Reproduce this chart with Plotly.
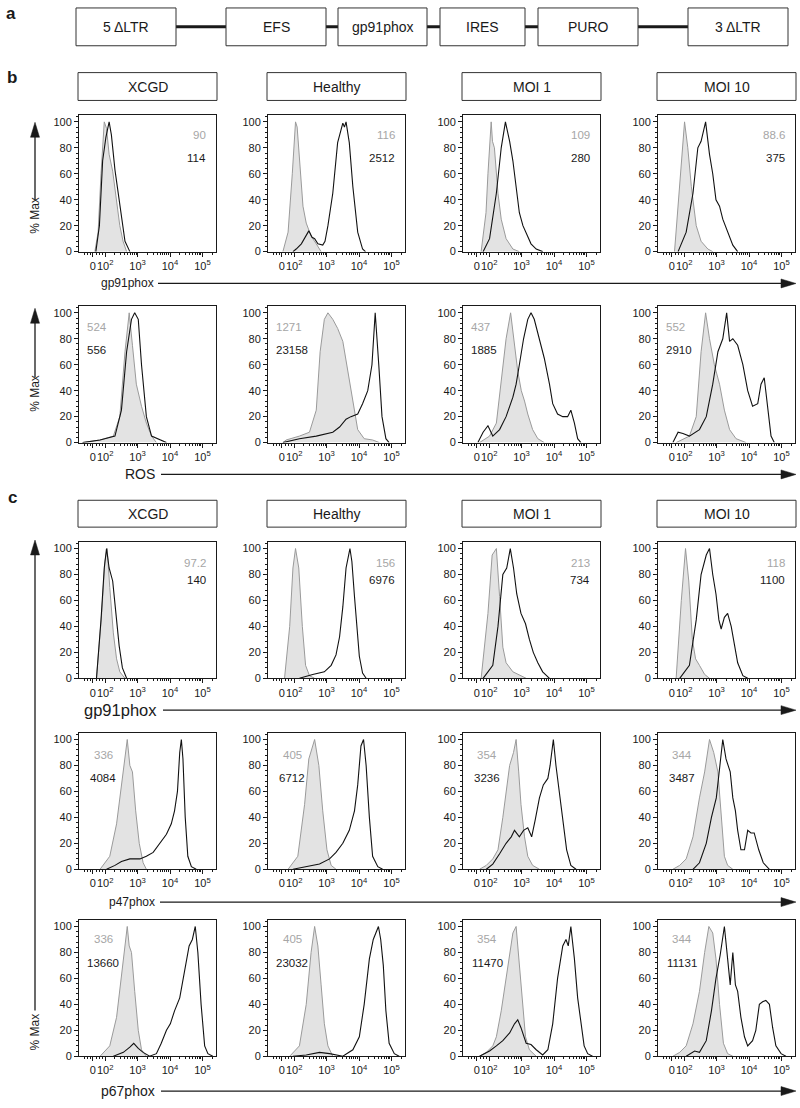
import math
import plotly.graph_objects as go

# ---------------- data ----------------
CONDITIONS = ["XCGD", "Healthy", "MOI 1", "MOI 10"]
ROW_MARKERS = ["gp91phox", "ROS", "gp91phox", "p47phox", "p67phox"]
VECTOR_ELEMENTS = ["5 \u0394LTR", "EFS", "gp91phox", "IRES", "PURO", "3 \u0394LTR"]

MFI_CTRL = [["90", "116", "109", "88.6"],
            ["524", "1271", "437", "552"],
            ["97.2", "156", "213", "118"],
            ["336", "405", "354", "344"],
            ["336", "405", "354", "344"]]
MFI_STAIN = [["114", "2512", "280", "375"],
             ["556", "23158", "1885", "2910"],
             ["140", "6976", "734", "1100"],
             ["4084", "6712", "3236", "3487"],
             ["13660", "23032", "11470", "11131"]]

# x in log-decade display units (2 = 10^2 ...), y in % Max
B1_XCGD_GRAY = [(1.68,0),(1.78,15),(1.87,60),(1.97,100),(2.04,95),(2.12,75),(2.23,62),(2.35,40),(2.45,20),(2.55,8),(2.66,0)]
B1_XCGD_BLACK = [(1.71,0),(1.82,20),(1.92,70),(2.02,88),(2.12,100),(2.19,90),(2.30,63),(2.40,45),(2.50,25),(2.61,8),(2.76,0)]
B1_HEALTHY_GRAY = [(1.65,0),(1.81,15),(1.94,60),(2.04,100),(2.09,96),(2.16,70),(2.27,35),(2.37,22),(2.52,12),(2.68,6),(2.83,0)]
B1_HEALTHY_BLACK = [(1.96,0),(2.06,2),(2.22,6),(2.37,12),(2.45,16),(2.55,11),(2.63,10),(2.73,6),(2.88,5),(2.95,8),(3.04,20),(3.19,45),(3.34,84),(3.50,99),(3.55,96),(3.60,100),(3.70,84),(3.81,50),(3.96,15),(4.11,2),(4.20,0)]
B1_MOI1_GRAY = [(1.75,0),(1.90,30),(1.96,60),(2.06,100),(2.10,85),(2.16,80),(2.27,45),(2.37,25),(2.52,10),(2.73,2),(2.93,0)]
B1_MOI1_BLACK = [(1.81,0),(2.01,10),(2.22,45),(2.37,80),(2.50,100),(2.63,85),(2.73,70),(2.83,50),(2.93,30),(3.04,20),(3.16,13),(3.29,6),(3.45,2),(3.65,0)]
B1_MOI10_GRAY = [(1.70,0),(1.91,70),(2.01,100),(2.11,80),(2.22,50),(2.37,20),(2.52,8),(2.73,2),(2.88,0)]
B1_MOI10_BLACK = [(1.81,0),(2.06,15),(2.27,45),(2.42,80),(2.52,85),(2.66,100),(2.78,75),(2.88,60),(2.98,40),(3.09,35),(3.19,25),(3.34,15),(3.50,5),(3.65,0)]

B2_XCGD_GRAY = [(1.30,0),(1.84,2),(2.25,5),(2.45,20),(2.61,70),(2.74,100),(2.84,75),(2.96,45),(3.12,28),(3.27,15),(3.43,5),(3.58,0)]
B2_XCGD_BLACK = [(1.30,0),(1.84,2),(2.30,5),(2.50,25),(2.66,70),(2.81,95),(2.91,100),(3.02,95),(3.12,60),(3.27,20),(3.43,5),(3.68,2),(3.89,0)]
B2_HEALTHY_GRAY = [(1.65,0),(1.75,2),(2.16,5),(2.47,8),(2.68,25),(2.80,70),(2.93,95),(3.04,100),(3.19,95),(3.34,88),(3.50,78),(3.65,55),(3.81,30),(3.96,10),(4.16,3),(4.42,2),(4.63,0)]
B2_HEALTHY_BLACK = [(1.65,0),(2.16,3),(2.68,5),(3.19,8),(3.40,12),(3.60,18),(3.75,20),(3.96,22),(4.11,30),(4.27,40),(4.40,60),(4.50,100),(4.61,60),(4.71,20),(4.83,3),(4.93,0)]
B2_MOI1_GRAY = [(1.70,0),(2.01,5),(2.22,15),(2.37,50),(2.52,80),(2.66,100),(2.78,75),(2.88,55),(2.99,40),(3.09,32),(3.19,22),(3.34,10),(3.50,3),(3.70,0)]
B2_MOI1_BLACK = [(1.65,0),(1.81,8),(1.96,13),(2.11,5),(2.32,10),(2.52,20),(2.73,35),(2.83,45),(2.93,60),(3.06,80),(3.19,95),(3.29,100),(3.39,95),(3.55,80),(3.70,65),(3.86,45),(3.96,30),(4.11,22),(4.27,20),(4.42,20),(4.52,25),(4.63,15),(4.73,3),(4.83,0)]
B2_MOI10_GRAY = [(1.75,0),(2.16,5),(2.37,20),(2.52,70),(2.66,100),(2.78,80),(2.93,60),(3.09,45),(3.24,25),(3.40,10),(3.60,3),(3.91,0)]
B2_MOI10_BLACK = [(1.65,0),(1.81,8),(1.96,7),(2.16,5),(2.47,10),(2.68,20),(2.88,45),(3.04,70),(3.19,80),(3.31,100),(3.40,78),(3.50,80),(3.65,75),(3.81,60),(3.96,40),(4.11,28),(4.27,30),(4.37,45),(4.47,50),(4.57,30),(4.68,5),(4.78,0)]

C1_XCGD_GRAY = [(1.73,0),(1.89,50),(1.99,90),(2.06,100),(2.14,70),(2.25,35),(2.35,15),(2.45,5),(2.61,0)]
C1_XCGD_BLACK = [(1.73,0),(1.87,45),(1.97,85),(2.04,100),(2.12,85),(2.23,75),(2.33,50),(2.43,25),(2.53,8),(2.66,0)]
C1_HEALTHY_GRAY = [(1.70,0),(1.86,40),(1.96,85),(2.04,100),(2.14,85),(2.25,40),(2.35,10),(2.47,2),(2.63,0)]
C1_HEALTHY_BLACK = [(2.16,0),(2.57,3),(2.93,5),(3.14,10),(3.29,18),(3.40,32),(3.50,55),(3.60,85),(3.72,100),(3.78,90),(3.86,63),(3.93,40),(4.01,17),(4.11,4),(4.22,0)]
C1_MOI1_GRAY = [(1.75,0),(1.96,50),(2.09,95),(2.22,100),(2.32,63),(2.42,24),(2.52,12),(2.73,5),(3.14,0)]
C1_MOI1_BLACK = [(1.81,0),(2.11,10),(2.27,40),(2.42,80),(2.54,85),(2.65,100),(2.75,85),(2.85,65),(2.98,50),(3.12,42),(3.24,30),(3.36,20),(3.50,12),(3.65,5),(3.86,0)]
C1_MOI10_GRAY = [(1.75,0),(1.91,60),(2.04,100),(2.14,75),(2.25,30),(2.35,15),(2.47,10),(2.63,3),(2.78,0)]
C1_MOI10_BLACK = [(1.86,0),(2.16,10),(2.37,45),(2.52,80),(2.68,95),(2.78,100),(2.88,80),(2.98,65),(3.07,45),(3.14,38),(3.24,47),(3.34,50),(3.45,40),(3.55,25),(3.65,12),(3.81,2),(3.96,0)]

C2_XCGD_GRAY = [(1.84,0),(2.14,10),(2.35,35),(2.50,65),(2.61,90),(2.68,100),(2.76,80),(2.84,75),(2.94,45),(3.05,20),(3.17,5),(3.27,0)]
C2_XCGD_BLACK = [(2.04,0),(2.30,3),(2.50,6),(2.76,8),(3.07,8),(3.27,10),(3.48,13),(3.68,20),(3.89,27),(4.04,35),(4.14,45),(4.23,60),(4.30,90),(4.35,100),(4.40,85),(4.47,40),(4.55,10),(4.66,2),(4.81,0)]
C2_HEALTHY_GRAY = [(1.81,0),(2.11,10),(2.32,50),(2.45,85),(2.63,100),(2.76,80),(2.88,45),(3.01,15),(3.14,3),(3.29,0)]
C2_HEALTHY_BLACK = [(1.96,0),(2.37,2),(2.78,4),(3.09,8),(3.29,13),(3.50,20),(3.70,30),(3.86,45),(3.96,65),(4.06,95),(4.14,100),(4.22,80),(4.32,40),(4.42,10),(4.58,2),(4.73,0)]
C2_MOI1_GRAY = [(1.70,0),(1.91,3),(2.11,8),(2.27,15),(2.42,40),(2.52,60),(2.63,80),(2.75,90),(2.83,100),(2.91,75),(2.98,50),(3.09,25),(3.19,10),(3.34,3),(3.55,0)]
C2_MOI1_BLACK = [(1.91,0),(2.11,4),(2.32,12),(2.52,20),(2.68,25),(2.78,30),(2.93,25),(3.06,30),(3.19,32),(3.31,25),(3.42,38),(3.55,55),(3.67,65),(3.81,70),(3.88,80),(3.98,100),(4.06,80),(4.16,60),(4.28,40),(4.39,15),(4.52,3),(4.68,0)]
C2_MOI10_GRAY = [(1.65,0),(1.86,3),(2.06,8),(2.27,25),(2.47,55),(2.63,75),(2.78,100),(2.91,90),(3.04,75),(3.14,40),(3.24,10),(3.34,3),(3.50,0)]
C2_MOI10_BLACK = [(2.27,0),(2.47,5),(2.68,20),(2.84,40),(2.99,55),(3.11,80),(3.19,100),(3.29,85),(3.42,75),(3.50,55),(3.58,45),(3.65,30),(3.75,15),(3.86,15),(3.96,30),(4.06,28),(4.16,28),(4.30,15),(4.44,5),(4.63,0)]

C3_XCGD_GRAY = [(1.84,0),(2.14,8),(2.35,30),(2.50,60),(2.61,85),(2.68,100),(2.74,85),(2.81,80),(2.91,50),(3.02,20),(3.12,5),(3.27,0)]
C3_XCGD_BLACK = [(2.25,0),(2.56,3),(2.76,7),(2.88,10),(3.02,6),(3.17,3),(3.37,0),(3.58,2),(3.73,10),(3.89,20),(4.01,25),(4.14,35),(4.30,45),(4.45,65),(4.59,85),(4.69,90),(4.78,100),(4.86,80),(4.96,40),(5.07,8),(5.17,2),(5.32,0)]
C3_HEALTHY_GRAY = [(1.86,0),(2.16,8),(2.37,40),(2.52,80),(2.63,100),(2.73,85),(2.83,55),(2.93,25),(3.04,8),(3.19,0)]
C3_HEALTHY_BLACK = [(1.96,0),(2.37,1),(2.78,3),(3.09,2),(3.50,0),(3.81,5),(4.01,15),(4.16,40),(4.32,75),(4.44,90),(4.60,100),(4.67,90),(4.75,70),(4.83,35),(4.93,10),(5.09,2),(5.24,0)]
C3_MOI1_GRAY = [(1.70,0),(1.91,3),(2.11,8),(2.22,15),(2.37,35),(2.52,60),(2.63,75),(2.73,95),(2.83,100),(2.91,75),(3.02,40),(3.12,15),(3.24,5),(3.45,0)]
C3_MOI1_BLACK = [(1.70,0),(2.01,4),(2.22,8),(2.42,12),(2.63,18),(2.78,25),(2.88,28),(2.98,22),(3.14,10),(3.29,9),(3.45,5),(3.65,1),(3.81,5),(3.96,25),(4.11,60),(4.27,85),(4.37,90),(4.44,85),(4.52,100),(4.63,75),(4.73,45),(4.83,25),(4.93,8),(5.04,2),(5.19,0)]
C3_MOI10_GRAY = [(1.65,0),(1.86,3),(2.06,8),(2.27,25),(2.47,50),(2.63,80),(2.76,100),(2.88,95),(2.98,75),(3.09,40),(3.21,10),(3.34,2),(3.50,0)]
C3_MOI10_BLACK = [(2.06,0),(2.32,4),(2.47,3),(2.68,12),(2.84,35),(2.98,60),(3.11,78),(3.24,100),(3.34,75),(3.42,55),(3.50,80),(3.58,55),(3.65,50),(3.75,30),(3.86,15),(3.96,8),(4.11,12),(4.21,20),(4.32,40),(4.42,42),(4.52,43),(4.63,40),(4.73,22),(4.83,8),(4.99,2),(5.14,0)]

X_TICK_VALS = [1.62, 2, 3, 4, 5]
X_TICK_TEXT = ["0", "10<sup>2</sup>", "10<sup>3</sup>", "10<sup>4</sup>", "10<sup>5</sup>"]

GRAY_CURVES = [[B1_XCGD_GRAY, B1_HEALTHY_GRAY, B1_MOI1_GRAY, B1_MOI10_GRAY],
               [B2_XCGD_GRAY, B2_HEALTHY_GRAY, B2_MOI1_GRAY, B2_MOI10_GRAY],
               [C1_XCGD_GRAY, C1_HEALTHY_GRAY, C1_MOI1_GRAY, C1_MOI10_GRAY],
               [C2_XCGD_GRAY, C2_HEALTHY_GRAY, C2_MOI1_GRAY, C2_MOI10_GRAY],
               [C3_XCGD_GRAY, C3_HEALTHY_GRAY, C3_MOI1_GRAY, C3_MOI10_GRAY]]
BLACK_CURVES = [[B1_XCGD_BLACK, B1_HEALTHY_BLACK, B1_MOI1_BLACK, B1_MOI10_BLACK],
                [B2_XCGD_BLACK, B2_HEALTHY_BLACK, B2_MOI1_BLACK, B2_MOI10_BLACK],
                [C1_XCGD_BLACK, C1_HEALTHY_BLACK, C1_MOI1_BLACK, C1_MOI10_BLACK],
                [C2_XCGD_BLACK, C2_HEALTHY_BLACK, C2_MOI1_BLACK, C2_MOI10_BLACK],
                [C3_XCGD_BLACK, C3_HEALTHY_BLACK, C3_MOI1_BLACK, C3_MOI10_BLACK]]

# ---------------- layout constants ----------------
W, H = 800, 1108
FONT = "Liberation Sans, Arial, Helvetica, sans-serif"
INK = "#1a1a1a"
COL_LEFT = [79, 268, 463, 658]
PLOT_W = 137
ROW_TOP = [116, 308, 545, 737, 925]
PLOT_H = 137
X_RANGE = [1.19, 5.42]
Y_RANGE = [0, 105]


def fx(p):
    return p / W


def fy(p):
    return 1 - p / H


minor_x = [1.35, 1.46, 1.54, 1.72, 1.82, 1.91]
for d in (2, 3, 4):
    for k in range(2, 10):
        minor_x.append(d + math.log10(k))
minor_x += [5 + math.log10(2)]

fig = go.Figure()
layout = dict(width=W, height=H, autosize=False, margin=dict(l=0, r=0, t=0, b=0, pad=0),
              paper_bgcolor="white", plot_bgcolor="white", showlegend=False,
              font=dict(family=FONT, color=INK, size=11))
shapes = []
annotations = []

for r in range(5):
    for c in range(4):
        n = r * 4 + c + 1
        sfx = "" if n == 1 else str(n)
        xa, ya = "x" + sfx, "y" + sfx
        layout["xaxis" + sfx] = dict(
            domain=[fx(COL_LEFT[c]), fx(COL_LEFT[c] + PLOT_W)], anchor=ya,
            range=X_RANGE, showgrid=False, zeroline=False, showline=True,
            linecolor=INK, linewidth=1, mirror=True,
            tickmode="array", tickvals=X_TICK_VALS, ticktext=X_TICK_TEXT,
            ticks="outside", ticklen=4, tickwidth=1, tickcolor=INK, tickangle=0,
            tickfont=dict(size=11, family=FONT, color=INK),
            minor=dict(tickmode="array", tickvals=minor_x, ticks="outside",
                       ticklen=2, tickcolor=INK, tickwidth=1, showgrid=False),
        )
        layout["yaxis" + sfx] = dict(
            domain=[fy(ROW_TOP[r] + PLOT_H), fy(ROW_TOP[r])], anchor=xa,
            range=Y_RANGE, showgrid=False, zeroline=False, showline=True,
            linecolor=INK, linewidth=1, mirror=True,
            tickmode="linear", tick0=0, dtick=20,
            ticks="outside", ticklen=4, tickwidth=1, tickcolor=INK,
            tickfont=dict(size=11, family=FONT, color=INK),
            minor=dict(tickmode="linear", tick0=0, dtick=4, ticks="outside",
                       ticklen=2, tickcolor=INK, tickwidth=1, showgrid=False),
        )
        g = GRAY_CURVES[r][c]
        b = BLACK_CURVES[r][c]
        fig.add_trace(go.Scatter(x=[p[0] for p in g], y=[p[1] for p in g],
                                 xaxis=xa, yaxis=ya, mode="lines", fill="tozeroy",
                                 fillcolor="#e3e3e3", line=dict(color="#9a9a9a", width=1),
                                 hoverinfo="skip"))
        fig.add_trace(go.Scatter(x=[p[0] for p in b], y=[p[1] for p in b],
                                 xaxis=xa, yaxis=ya, mode="lines",
                                 line=dict(color="#111111", width=1.1),
                                 hoverinfo="skip"))
        # MFI numbers
        dref = ("x" if n == 1 else "x" + str(n)) + " domain"
        yref = ("y" if n == 1 else "y" + str(n)) + " domain"
        if r in (0, 2):
            xpos, xanc = 1 - 8 / PLOT_W, "right"
            gy, by = (20, 43) if r == 0 else (21, 38)
        elif r == 1:
            xpos, xanc = 6 / PLOT_W, "left"
            gy, by = 21, 44
        else:
            xpos, xanc = 24 / PLOT_W, "center"
            gy, by = (22, 45) if r == 3 else (19, 43)
        annotations.append(dict(x=xpos, y=1 - gy / PLOT_H, xref=dref, yref=yref,
                                text=MFI_CTRL[r][c], showarrow=False, xanchor=xanc,
                                yanchor="middle", font=dict(size=11.5, color="#a6a6a6", family=FONT)))
        annotations.append(dict(x=xpos, y=1 - by / PLOT_H, xref=dref, yref=yref,
                                text=MFI_STAIN[r][c], showarrow=False, xanchor=xanc,
                                yanchor="middle", font=dict(size=11.5, color=INK, family=FONT)))

# header boxes
for (y0, y1) in [(73, 101), (503, 530)]:
    for c in range(4):
        x0 = COL_LEFT[c] - 1
        x1 = COL_LEFT[c] + PLOT_W + 1
        shapes.append(dict(type="rect", xref="paper", yref="paper", x0=fx(x0), x1=fx(x1),
                           y0=fy(y1), y1=fy(y0), line=dict(color="#333333", width=1),
                           fillcolor="white"))
        annotations.append(dict(x=fx((x0 + x1) / 2), y=fy((y0 + y1) / 2), xref="paper", yref="paper",
                                text=CONDITIONS[c], showarrow=False, xanchor="center",
                                yanchor="middle", font=dict(size=14, family=FONT, color=INK)))

# vector diagram (panel a)
VEC_BOXES = [(76, 176), (226, 326), (338, 427), (440, 525), (538, 638), (688, 788)]
shapes.append(dict(type="line", xref="paper", yref="paper", x0=fx(176), x1=fx(688),
                   y0=fy(27), y1=fy(27), line=dict(color=INK, width=3), layer="below"))
for (x0, x1), label in zip(VEC_BOXES, VECTOR_ELEMENTS):
    shapes.append(dict(type="rect", xref="paper", yref="paper", x0=fx(x0), x1=fx(x1),
                       y0=fy(46), y1=fy(8), line=dict(color="#333333", width=1),
                       fillcolor="white"))
    annotations.append(dict(x=fx((x0 + x1) / 2), y=fy(27), xref="paper", yref="paper",
                            text=label, showarrow=False, xanchor="center", yanchor="middle",
                            font=dict(size=14, family=FONT, color=INK)))

# panel letters
for letter, (lx, ly) in zip(["a", "b", "c"], [(11, 14), (12, 78), (12, 500)]):
    annotations.append(dict(x=fx(lx), y=fy(ly), xref="paper", yref="paper",
                            text="<b>" + letter + "</b>", showarrow=False, xanchor="center",
                            yanchor="middle", font=dict(size=17, family=FONT, color=INK)))


def tri(path_pts):
    return "M " + " L ".join(f"{fx(x)},{fy(y)}" for x, y in path_pts) + " Z"


# horizontal channel arrows
H_ARROWS = [(285, 127, 12, 158), (477, 140, 14, 161), (714, 120, 16.5, 163),
            (907, 132, 12, 160), (1097, 128, 14, 161)]
for (yy, tx, fs, lx0), label in zip(H_ARROWS, ROW_MARKERS):
    shapes.append(dict(type="line", xref="paper", yref="paper", x0=fx(lx0), x1=fx(785),
                       y0=fy(yy), y1=fy(yy), line=dict(color=INK, width=1.3)))
    shapes.append(dict(type="path", xref="paper", yref="paper",
                       path=tri([(796, yy), (781, yy - 4.5), (781, yy + 4.5)]),
                       fillcolor=INK, line=dict(color=INK, width=0.5)))
    annotations.append(dict(x=fx(tx), y=fy(yy), xref="paper", yref="paper", text=label,
                            showarrow=False, xanchor="center", yanchor="middle",
                            font=dict(size=fs, family=FONT, color=INK)))

# vertical % Max arrows
V_ARROWS = [(123, 201, 217), (310, 379, 396), (543, 1016, 1038)]
for tip, lend, tcy in V_ARROWS:
    shapes.append(dict(type="line", xref="paper", yref="paper", x0=fx(35), x1=fx(35),
                       y0=fy(tip + 10), y1=fy(lend), line=dict(color=INK, width=1.3)))
    shapes.append(dict(type="path", xref="paper", yref="paper",
                       path=tri([(35, tip), (30.5, tip + 15), (39.5, tip + 15)]),
                       fillcolor=INK, line=dict(color=INK, width=0.5)))
    annotations.append(dict(x=fx(35), y=fy(tcy), xref="paper", yref="paper", text="% Max",
                            textangle=-90, showarrow=False, xanchor="center", yanchor="middle",
                            font=dict(size=12, family=FONT, color=INK)))

layout["shapes"] = shapes
layout["annotations"] = annotations
fig.update_layout(**layout)
fig.write_html("out.html", config={"displayModeBar": False, "staticPlot": True},
               post_script="document.body.style.margin='0';document.body.style.overflow='hidden';")
